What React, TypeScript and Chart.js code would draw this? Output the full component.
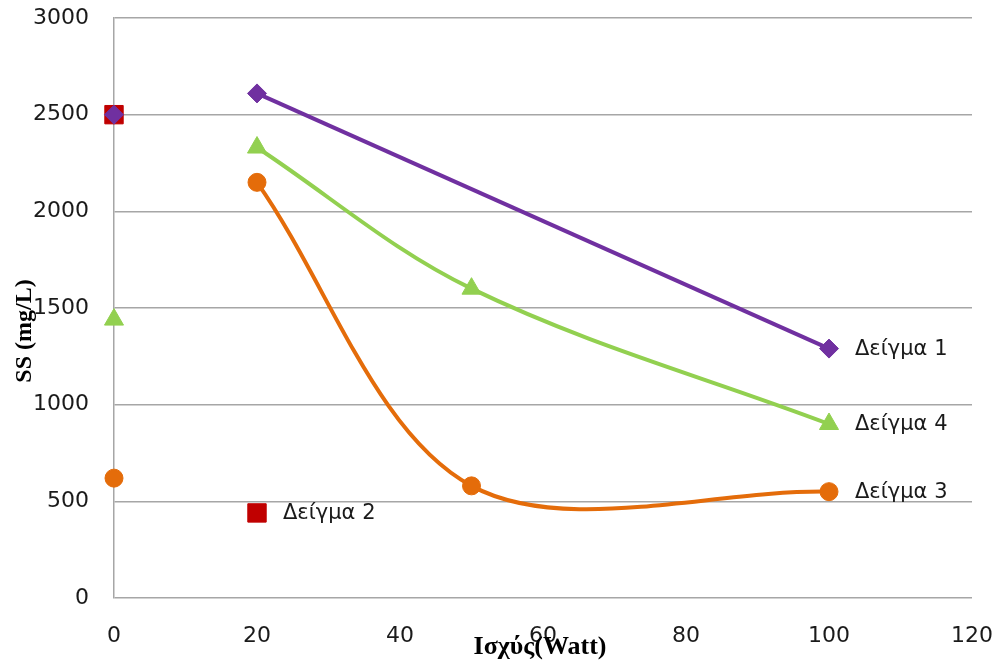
import { useEffect, useRef } from "react";
import { Chart, registerables } from "chart.js";

Chart.register(...registerables);

// Power levels (W) at which suspended solids were measured
const powerLevels = [0, 20, 50, 100];

// SS (mg/L) per sample; null = not measured
const sample1 = [2500, 2610, null, 1290];
const sample2 = [2500, 440, null, null];
const sample3 = [620, 2150, 580, 550];
const sample4 = [1440, 2330, 1600, 900];

const sampleNames = ["Δείγμα 1", "Δείγμα 2", "Δείγμα 3", "Δείγμα 4"];

const xTicks = [0, 20, 40, 60, 80, 100, 120];
const yTicks = [0, 500, 1000, 1500, 2000, 2500, 3000];

const xTitle = "Ισχύς(Watt)";
const yTitle = "SS (mg/L)";

const TICK_FONT = "'DejaVu Sans', sans-serif";
const TITLE_FONT = "'Liberation Serif', 'Times New Roman', serif";
const GRID = "#a6a6a6";

type Series = {
  name: string;
  values: (number | null)[];
  color: string;
  style: "rectRot" | "rect" | "circle" | "triangle";
  radius: number;
  joined: boolean;
  tension: number;
  order: number;
};

const series: Series[] = [
  { name: sampleNames[0], values: sample1, color: "#7030a0", style: "rectRot", radius: 9.5, joined: true, tension: 0, order: 0 },
  { name: sampleNames[1], values: sample2, color: "#c00000", style: "rect", radius: 13, joined: false, tension: 0, order: 3 },
  { name: sampleNames[2], values: sample3, color: "#e46c0a", style: "circle", radius: 9, joined: true, tension: 0.33, order: 2 },
  { name: sampleNames[3], values: sample4, color: "#92d050", style: "triangle", radius: 11, joined: true, tension: 0.35, order: 1 },
];

function toPoints(values: (number | null)[]) {
  const pts: { x: number; y: number }[] = [];
  values.forEach((v, i) => {
    if (v !== null) pts.push({ x: powerLevels[i], y: v });
  });
  return pts;
}

function buildDatasets() {
  const sets: any[] = [];
  series.forEach((s) => {
    const pts = toPoints(s.values);
    const common = {
      borderColor: s.color,
      backgroundColor: s.color,
      pointStyle: s.style,
      pointRadius: s.radius,
      pointBackgroundColor: s.color,
      pointBorderColor: s.color,
      pointBorderWidth: 1,
      borderWidth: 4,
      clip: false as const,
      order: s.order,
    };
    if (s.joined) {
      // the reading at 0 W stands on its own, the rest are joined
      const baseline = pts.filter((p) => p.x === 0);
      const run = pts.filter((p) => p.x > 0);
      sets.push({ ...common, label: s.name, data: run, showLine: true, tension: s.tension });
      if (baseline.length) sets.push({ ...common, label: s.name + " (0 W)", data: baseline, showLine: false });
    } else {
      sets.push({ ...common, label: s.name, data: pts, showLine: false });
    }
  });
  return sets;
}

const endLabels = {
  id: "endLabels",
  afterDatasetsDraw(chart: any) {
    const { ctx, scales } = chart;
    ctx.save();
    ctx.font = `21px ${TICK_FONT}`;
    ctx.fillStyle = "#1a1a1a";
    ctx.textAlign = "left";
    ctx.textBaseline = "middle";
    series.forEach((s) => {
      const pts = toPoints(s.values);
      const last = pts[pts.length - 1];
      const px = scales.x.getPixelForValue(last.x);
      const py = scales.y.getPixelForValue(last.y);
      ctx.fillText(s.name, px + 26, py + 1);
    });
    ctx.restore();
  },
};

const axisTitles = {
  id: "axisTitles",
  afterDraw(chart: any) {
    const { ctx, chartArea } = chart;
    ctx.save();
    ctx.fillStyle = "#000";
    ctx.textAlign = "center";
    ctx.textBaseline = "middle";
    ctx.font = `bold 26px ${TITLE_FONT}`;
    const cx = (chartArea.left + chartArea.right) / 2 - 3;
    ctx.fillText(xTitle, cx, chartArea.bottom + 49);
    ctx.font = `bold 24px ${TITLE_FONT}`;
    ctx.translate(25, (chartArea.top + chartArea.bottom) / 2 + 23);
    ctx.rotate(-Math.PI / 2);
    ctx.fillText(yTitle, 0, 0);
    ctx.restore();
  },
};

export default function App() {
  const canvasRef = useRef<HTMLCanvasElement | null>(null);

  useEffect(() => {
    if (!canvasRef.current) return;
    const chart = new Chart(canvasRef.current, {
      type: "scatter",
      data: { datasets: buildDatasets() },
      options: {
        animation: false,
        responsive: true,
        maintainAspectRatio: false,
        layout: { padding: { top: 18, right: 23, left: 0, bottom: 0 } },
        plugins: {
          legend: { display: false },
          tooltip: { enabled: false },
        },
        scales: {
          x: {
            type: "linear",
            min: xTicks[0],
            max: xTicks[xTicks.length - 1],
            afterBuildTicks: (scale: any) => {
              scale.ticks = xTicks.map((v) => ({ value: v }));
            },
            afterFit: (scale: any) => {
              scale.height = 63;
              scale.paddingLeft = 0;
              scale.paddingRight = 0;
            },
            grid: { display: false, drawTicks: false },
            border: { display: false },
            ticks: {
              padding: 25,
              color: "#1a1a1a",
              font: { family: TICK_FONT, size: 22 },
              maxRotation: 0,
              autoSkip: false,
              callback: (v: any) => String(v),
            },
          },
          y: {
            type: "linear",
            min: yTicks[0],
            max: yTicks[yTicks.length - 1],
            afterBuildTicks: (scale: any) => {
              scale.ticks = yTicks.map((v) => ({ value: v }));
            },
            afterFit: (scale: any) => {
              scale.width = 114;
              scale.paddingTop = 0;
              scale.paddingBottom = 0;
            },
            grid: { color: GRID, lineWidth: 1.5, drawTicks: false },
            border: { display: true, color: GRID, width: 1.5 },
            ticks: {
              padding: 25,
              color: "#1a1a1a",
              font: { family: TICK_FONT, size: 22 },
              autoSkip: false,
              callback: (v: any) => String(v),
            },
          },
        },
      },
      plugins: [endLabels, axisTitles],
    });
    return () => chart.destroy();
  }, []);

  return (
    <div
      style={{
        position: "fixed",
        left: 0,
        top: 0,
        width: 995,
        height: 661,
        background: "#fff",
      }}
    >
      <canvas ref={canvasRef} />
    </div>
  );
}
